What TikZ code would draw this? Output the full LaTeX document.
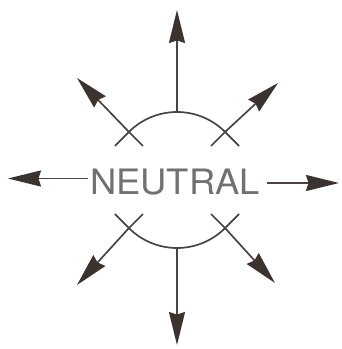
\documentclass[tikz,border=0pt]{standalone}
\usepackage{fontspec}
\setmainfont{TeX Gyre Heros}
\usetikzlibrary{arrows.meta,calc}
\definecolor{ink}{HTML}{4A4440}
\definecolor{headink}{HTML}{3A332F}
\definecolor{txt}{HTML}{727070}
\begin{document}
\begin{tikzpicture}[x=1pt,y=1pt,
  ray/.style={draw=ink, line width=1.7pt, -{Stealth[length=33pt,width=16pt,inset=2.5pt,fill=headink,color=headink]}},
  rim/.style={draw=ink, line width=1.7pt},
  lab/.style={font=\fontsize{35}{40}\selectfont, text=txt, inner sep=0pt, anchor=base}]
\useasboundingbox (0,0) rectangle (342,349);
\coordinate (C) at (177,169);
% crossings on the circle
\coordinate (ul) at ($(C)+(135:68)$);
\coordinate (ur) at ($(C)+(45:68)$);
\coordinate (ll) at ($(C)+(225:68)$);
\coordinate (lr) at ($(C)+(315:68)$);
\coordinate (top) at ($(C)+(90:68)$);
\coordinate (bot) at ($(C)+(270:68)$);
% arrow tips
\coordinate (tT) at (177,339);
\coordinate (tB) at (177,4);
\coordinate (tL) at (8,170.5);
\coordinate (tR) at (339,166);
\coordinate (tUL) at (77,271);
\coordinate (tUR) at (278,266);
\coordinate (tLL) at (77,64);
\coordinate (tLR) at (275,66);
\coordinate (sL) at (88,170.5);
\coordinate (sR) at (267,166);
% label
\node[lab] (n) at (175,154) {\scalebox{1.04}[1]{NEUTRAL}};
% arcs with tangent extensions
\draw[rim] ($(ur)+(14,-14)$) -- (ur) arc[start angle=45,end angle=135,radius=68] -- ++(-14,-14);
\draw[rim] ($(ll)+(-14,14)$) -- (ll) arc[start angle=225,end angle=315,radius=68] -- ++(14,14);
% inward radial stubs
\draw[rim] (ul) -- ++(14,-14);
\draw[rim] (ur) -- ++(-14,-14);
\draw[rim] (ll) -- ++(14,14);
\draw[rim] (lr) -- ++(-14,14);
% rays
\draw[ray] (top) -- (tT);
\draw[ray] (bot) -- (tB);
\draw[ray] (sL) -- (tL);
\draw[ray] (sR) -- (tR);
\draw[ray] (ul) -- (tUL);
\draw[ray] (ur) -- (tUR);
\draw[ray] (ll) -- (tLL);
\draw[ray] (lr) -- (tLR);
\end{tikzpicture}
\end{document}
